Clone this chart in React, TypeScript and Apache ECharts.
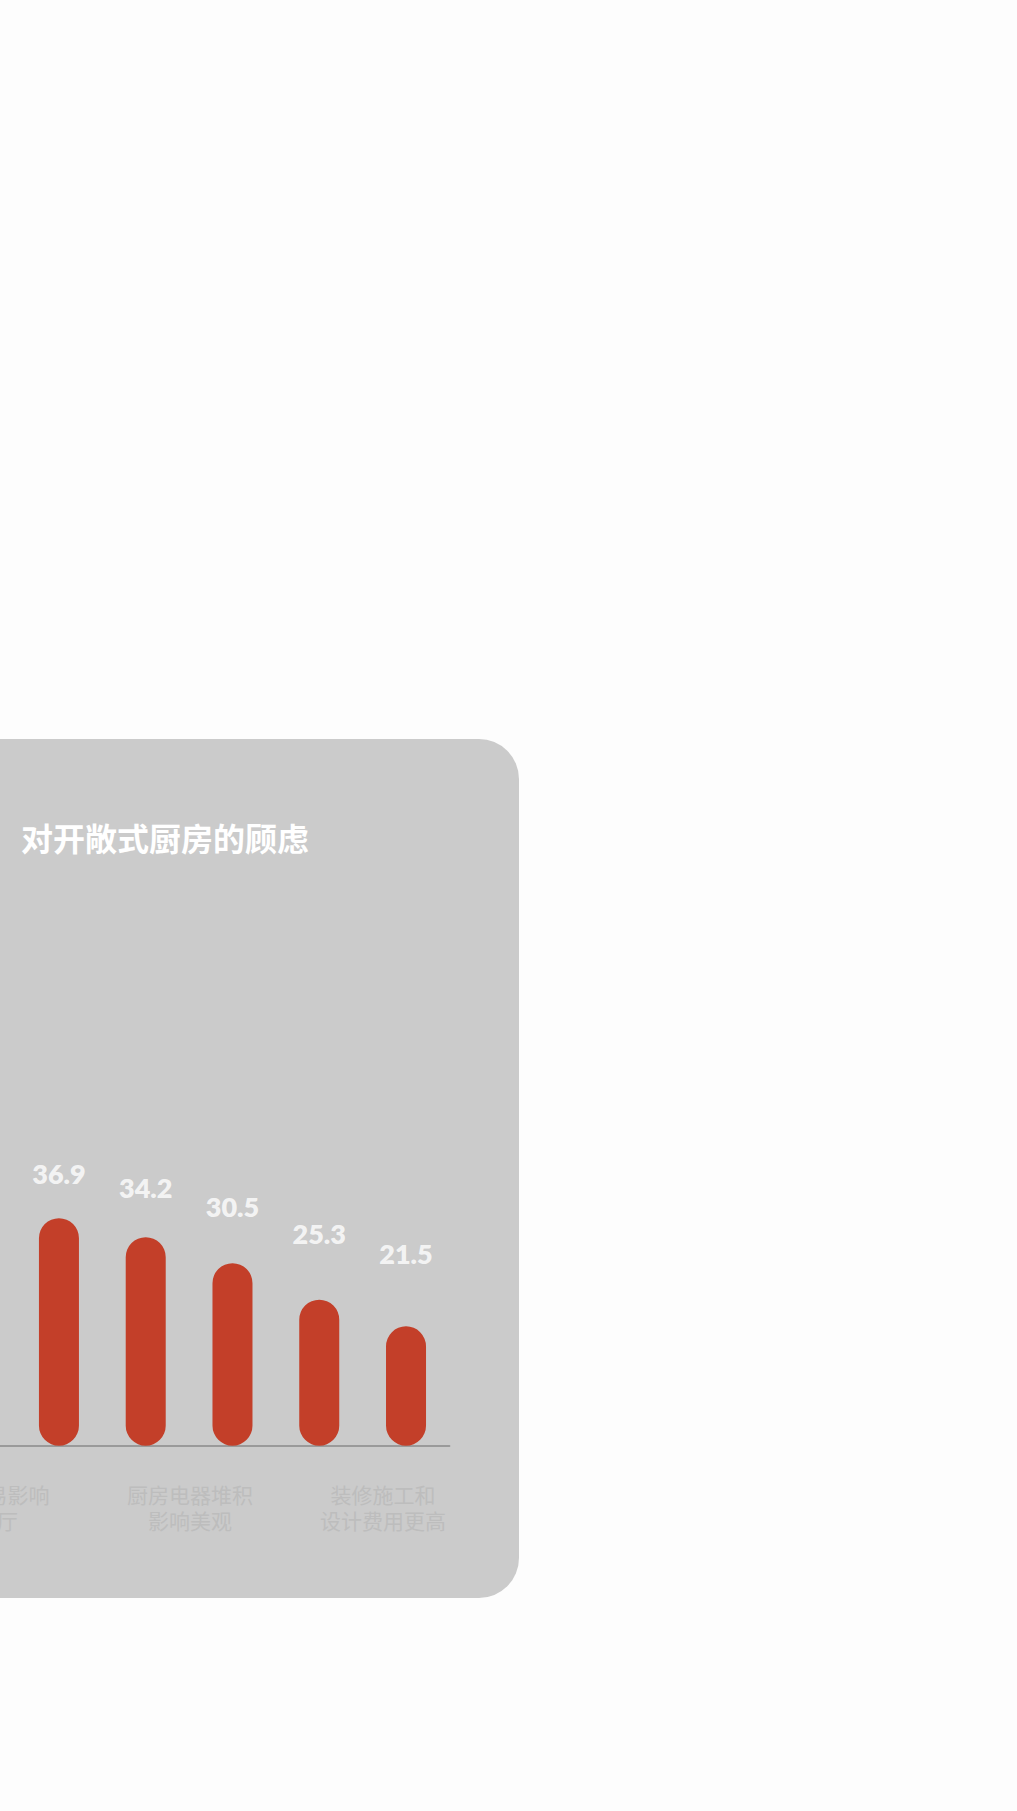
import { useEffect, useRef } from "react";
import * as echarts from "echarts";

const CJK_FONT = '"Noto Sans CJK SC", "Noto Sans", sans-serif';
const NUM_FONT = 'Lato, "Open Sans", sans-serif';

const chartTitle = "对开敞式厨房的顾虑";
// first category sits off-screen to the left
const barCategories = ["顾虑一", "顾虑二", "顾虑三", "顾虑四", "顾虑五", "顾虑六"];
const barValues = [null, 36.9, 34.2, 30.5, 25.3, 21.5];
const labelCategories = ["油烟易影响\n客厅", "厨房电器堆积\n影响美观", "装修施工和\n设计费用更高"];

export default function App() {
  const chartRef = useRef<HTMLDivElement>(null);

  useEffect(() => {
    const el = chartRef.current;
    if (!el) return;
    const chart = echarts.init(el, undefined, { renderer: "svg" });

    const option: echarts.EChartsOption = {
      animation: false,
      title: {
        text: chartTitle,
        left: 216,
        top: 77,
        textStyle: { color: "#ffffff", fontSize: 32, fontWeight: "bold", fontFamily: CJK_FONT },
      },
      grid: [
        { left: 128.8, right: 69.6, top: 408.3, bottom: 152.3 },
        { left: 100.5, right: 39.5, top: 408.3, bottom: 152.3 },
      ],
      xAxis: [
        {
          type: "category",
          gridIndex: 0,
          data: barCategories,
          axisLine: { onZero: false, lineStyle: { color: "#9a9a9a", width: 2 } },
          axisTick: { show: false },
          axisLabel: { show: false },
        },
        {
          type: "category",
          gridIndex: 1,
          data: labelCategories,
          axisLine: { show: false },
          axisTick: { show: false },
          axisLabel: {
            interval: 0,
            color: "#bdbdbd",
            fontSize: 21,
            lineHeight: 26,
            margin: 35,
            fontFamily: CJK_FONT,
          },
        },
      ],
      yAxis: [
        { type: "value", gridIndex: 0, min: 4.5, max: 47, show: false },
        { type: "value", gridIndex: 0, min: -12.5, max: 44.4, show: false },
        { type: "value", gridIndex: 1, show: false },
      ],
      series: [
        {
          type: "bar",
          xAxisIndex: 0,
          yAxisIndex: 0,
          data: barValues,
          barWidth: 40,
          itemStyle: { color: "#c33f29", borderRadius: 20 },
        },
        {
          type: "scatter",
          xAxisIndex: 0,
          yAxisIndex: 1,
          data: barValues,
          symbolSize: 0,
          label: {
            show: true,
            position: "top",
            distance: 0,
            color: "#ffffff",
            fontSize: 27,
            fontWeight: 800,
            fontFamily: NUM_FONT,
            formatter: (p: any) => String(Array.isArray(p.value) ? p.value[1] : p.value),
          },
        },
      ],
    };

    chart.setOption(option);
    return () => chart.dispose();
  }, []);

  return (
    <div
      style={{
        position: "absolute",
        left: 0,
        top: 0,
        width: 1017,
        height: 1811,
        overflow: "hidden",
        background: "#fdfdfd",
      }}
    >
      <div
        style={{
          position: "absolute",
          left: -200,
          top: 739,
          width: 719,
          height: 859,
          borderRadius: 40,
          overflow: "hidden",
          background: "#cbcbcb",
        }}
      >
        <div ref={chartRef} style={{ width: "100%", height: "100%" }} />
      </div>
    </div>
  );
}
